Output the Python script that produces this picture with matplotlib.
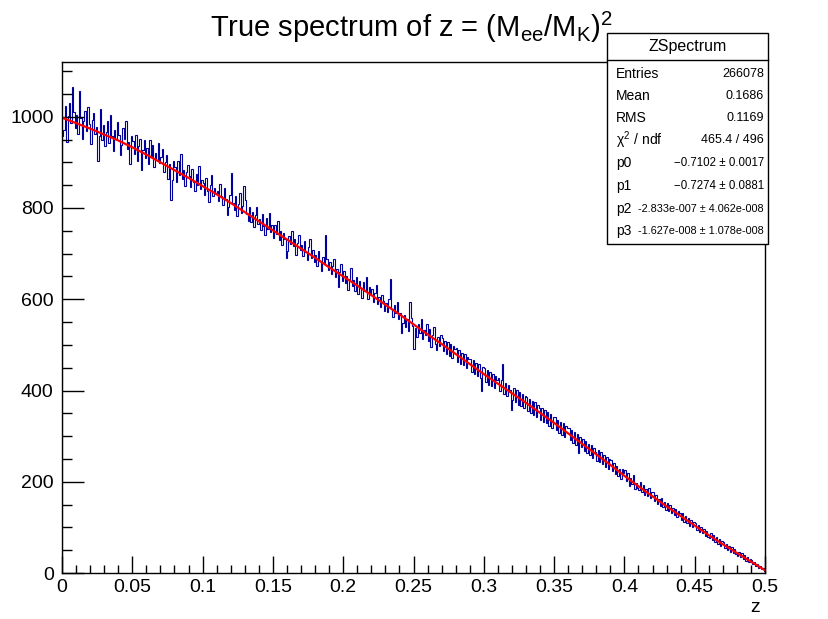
import matplotlib
matplotlib.use("Agg")
import matplotlib.pyplot as plt
import numpy as np
from matplotlib.ticker import MultipleLocator, FuncFormatter

plt.rcParams['font.family'] = ['Liberation Sans', 'DejaVu Sans']
plt.rcParams['mathtext.fontset'] = 'custom'
plt.rcParams['mathtext.rm'] = 'Liberation Sans'
plt.rcParams['mathtext.it'] = 'Liberation Sans'

# ---- data ----
bin_edges_lo = 0.0
bin_edges_hi = 0.5
n_bins = 500

counts = [
    958, 972, 1024, 945, 1002, 1031, 987, 1066, 1010, 975,
    1004, 962, 1056, 998, 951, 990, 1012, 968, 1022, 985,
    941, 993, 1008, 962, 977, 904, 958, 1017, 949, 981,
    935, 967, 990, 942, 1003, 958, 926, 972, 951, 988,
    960, 917, 938, 976, 952, 990, 929, 945, 897, 958,
    946, 919, 961, 903, 935, 952, 884, 927, 948, 910,
    931, 896, 948, 915, 938, 889, 921, 906, 943, 898,
    912, 930, 879, 901, 917, 864, 896, 818, 861, 903,
    890, 858, 902, 872, 918, 863, 884, 849, 880, 895,
    871, 845, 886, 858, 837, 874, 851, 893, 842, 861,
    854, 829, 866, 838, 813, 851, 872, 827, 844, 833,
    838, 815, 852, 826, 807, 844, 819, 784, 802, 829,
    876, 812, 795, 826, 783, 808, 832, 790, 805, 849,
    818, 786, 771, 802, 769, 791, 758, 784, 803, 765,
    776, 752, 787, 760, 741, 779, 754, 790, 748, 763,
    735, 762, 744, 771, 729, 750, 718, 745, 732, 691,
    705, 738, 722, 749, 716, 731, 697, 724, 741, 708,
    719, 694, 728, 703, 686, 715, 732, 690, 708, 681,
    697, 672, 706, 684, 662, 693, 679, 741, 688, 665,
    681, 655, 672, 689, 648, 666, 627, 659, 677, 640,
    663, 635, 651, 621, 645, 668, 630, 642, 617, 649,
    612, 641, 625, 603, 637, 619, 648, 600, 626, 611,
    622, 595, 613, 631, 589, 605, 583, 610, 596, 574,
    592, 571, 600, 645, 579, 561, 588, 569, 594, 557,
    570, 525, 548, 566, 539, 556, 531, 594, 560, 541,
    490, 537, 518, 546, 525, 556, 512, 533, 521, 545,
    509, 534, 496, 521, 540, 503, 489, 518, 497, 522,
    515, 487, 509, 480, 506, 476, 501, 471, 497, 490,
    493, 462, 489, 458, 482, 455, 479, 449, 474, 468,
    470, 441, 466, 437, 461, 432, 458, 427, 400, 451,
    449, 419, 445, 413, 441, 410, 437, 406, 431, 424,
    427, 398, 423, 458, 392, 417, 387, 413, 402, 358,
    379, 406, 374, 401, 369, 397, 366, 392, 361, 388,
    386, 356, 381, 350, 377, 347, 374, 341, 368, 361,
    336, 362, 331, 358, 328, 352, 322, 349, 318, 343,
    341, 313, 336, 306, 330, 303, 329, 298, 322, 318,
    318, 292, 313, 286, 309, 281, 305, 264, 299, 276,
    294, 268, 290, 262, 283, 258, 281, 253, 275, 266,
    245, 270, 243, 265, 238, 259, 233, 255, 229, 249,
    248, 224, 241, 216, 235, 212, 229, 207, 227, 220,
    226, 201, 219, 190, 209, 196, 215, 184, 197, 186,
    181, 199, 178, 193, 171, 185, 168, 186, 164, 178,
    177, 158, 170, 152, 163, 147, 165, 144, 156, 139,
    154, 136, 149, 131, 143, 127, 140, 122, 135, 131,
    117, 131, 112, 126, 109, 120, 104, 117, 100, 112,
    110, 94, 106, 90, 101, 87, 97, 82, 93, 79,
    76, 88, 72, 83, 68, 79, 64, 75, 60, 70,
    68, 55, 64, 51, 60, 47, 57, 44, 53, 41,
    38, 47, 34, 43, 31, 39, 27, 35, 24, 31,
    28, 19, 24, 15, 20, 12, 16, 8, 12, 5,
]

fit_z = [0.00, 0.01, 0.02, 0.03, 0.04, 0.05, 0.06, 0.07, 0.08, 0.09,
         0.10, 0.11, 0.12, 0.13, 0.14, 0.15, 0.16, 0.17, 0.18, 0.19,
         0.20, 0.21, 0.22, 0.23, 0.24, 0.25, 0.26, 0.27, 0.28, 0.29,
         0.30, 0.31, 0.32, 0.33, 0.34, 0.35, 0.36, 0.37, 0.38, 0.39,
         0.40, 0.41, 0.42, 0.43, 0.44, 0.45, 0.46, 0.47, 0.48, 0.49, 0.50]
fit_y = [998, 986, 974, 961, 948, 933, 917, 900, 883, 866,
         848, 830, 811, 791, 771, 751, 731, 711, 691, 670,
         650, 630, 609, 588, 567, 545, 523, 502, 480, 458,
         436, 415, 394, 373, 351, 329, 306, 283, 260, 237,
         213, 190, 168, 146, 125, 104, 83, 63, 44, 25, 6]

stats_labels = ["Entries", "Mean", "RMS", r"$\chi^{2}$ / ndf", "p0", "p1", "p2", "p3"]
stats_values = ["266078", "0.1686", "0.1169", "465.4 / 496",
                "\u22120.7102 \u00b1 0.0017", "\u22120.7274 \u00b1 0.0881",
                "-2.833e-007 \u00b1 4.062e-008",
                "-1.627e-008 \u00b1 1.078e-008"]
stats_value_sizes = [9.0, 9.0, 9.0, 9.0, 8.3, 8.3, 7.8, 7.8]

# ---- figure ----
W, H = 829, 619
fig = plt.figure(figsize=(W / 100, H / 100), dpi=100)
ax = fig.add_axes([62 / W, 1 - 573 / H, (765 - 62) / W, (573 - 62) / H])

edges = np.linspace(bin_edges_lo, bin_edges_hi, n_bins + 1)
ax.stairs(counts, edges, color='#00009c', linewidth=0.8)
ax.plot(fit_z, fit_y, color='#ff0000', linewidth=1.6)

ax.set_xlim(0, 0.5)
ax.set_ylim(0, 1120)

ax.xaxis.set_major_locator(MultipleLocator(0.05))
ax.xaxis.set_minor_locator(MultipleLocator(0.01))
ax.yaxis.set_major_locator(MultipleLocator(200))
ax.yaxis.set_minor_locator(MultipleLocator(50))

def xfmt(v, pos):
    return f"{v:.2f}".rstrip('0').rstrip('.')
ax.xaxis.set_major_formatter(FuncFormatter(xfmt))

ax.tick_params(axis='both', which='both', direction='in', top=False, right=False,
               labelsize=14, width=1.0)
ax.tick_params(axis='y', which='major', length=15.5, pad=6)
ax.tick_params(axis='y', which='minor', length=7.5)
ax.tick_params(axis='x', which='major', length=12.5, pad=4)
ax.tick_params(axis='x', which='minor', length=6)
for sp in ax.spines.values():
    sp.set_linewidth(1.0)

fig.text(760 / W, 1 - 607 / H, "z", fontsize=14, ha='right', va='center')

fig.text(411 / W, 1 - 27 / H, r"True spectrum of z = (M$_{\mathrm{ee}}$/M$_{\mathrm{K}}$)$^{2}$",
         fontsize=21, ha='center', va='center')

# stats box
bx0, bx1, by0, by1 = 607, 768, 33, 244
box = plt.Rectangle((bx0 / W, 1 - by1 / H), (bx1 - bx0) / W, (by1 - by0) / H,
                    transform=fig.transFigure, facecolor='white', edgecolor='black',
                    linewidth=1.0, zorder=5)
fig.add_artist(box)
fig.add_artist(plt.Line2D([bx0 / W, bx1 / W], [1 - 60 / H, 1 - 60 / H],
                          transform=fig.transFigure, color='black', linewidth=1.0, zorder=6))
fig.text((bx0 + bx1) / 2 / W, 1 - 47 / H, "ZSpectrum", fontsize=11.5,
         ha='center', va='center', zorder=7)
row_y = [74, 96, 118, 140, 163, 186, 209, 231]
for lab, val, vs, yy in zip(stats_labels, stats_values, stats_value_sizes, row_y):
    fig.text(616 / W, 1 - yy / H, lab, fontsize=10, ha='left', va='center', zorder=7)
    fig.text(764 / W, 1 - yy / H, val, fontsize=vs, ha='right', va='center', zorder=7)

fig.savefig("out.png", dpi=100)
